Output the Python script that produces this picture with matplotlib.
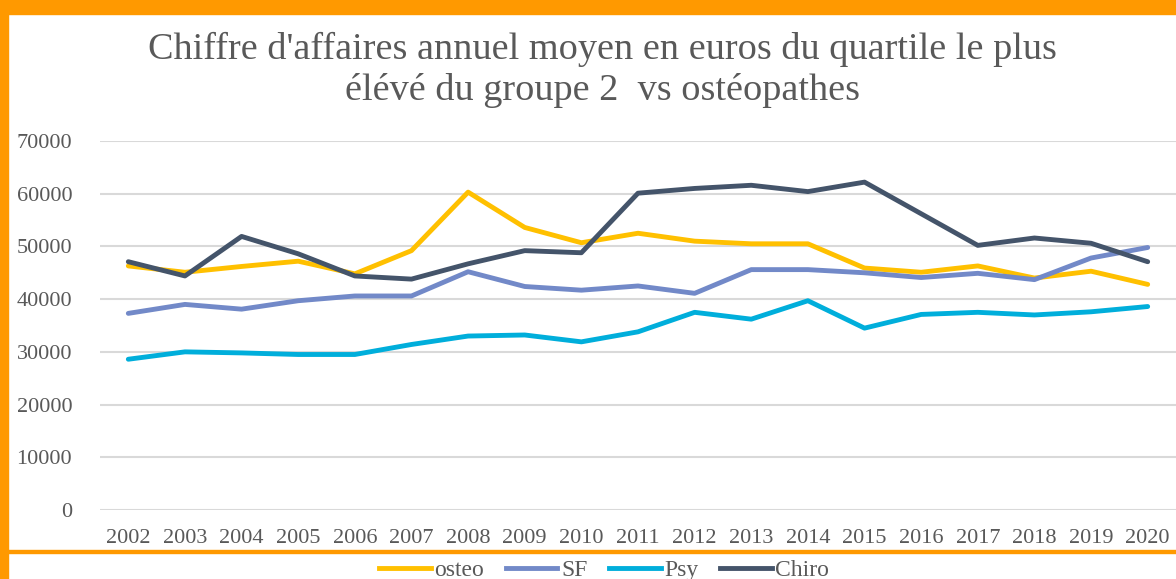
import matplotlib.pyplot as plt
from matplotlib.lines import Line2D
from matplotlib.patches import Rectangle

# Data
years = [str(y) for y in range(2002, 2021)]
osteo = [46300, 45100, 46200, 47200, 44800, 49200, 60300, 53600, 50700, 52500,
         51000, 50500, 50500, 45900, 45100, 46300, 44000, 45300, 42800]
sf = [37300, 39000, 38100, 39700, 40600, 40600, 45200, 42400, 41700, 42500,
      41100, 45600, 45600, 45000, 44100, 44900, 43700, 47800, 49800]
psy = [28600, 30000, 29800, 29500, 29500, 31400, 33000, 33200, 31900, 33800,
       37500, 36200, 39700, 34500, 37100, 37500, 37000, 37600, 38600]
chiro = [47100, 44400, 51900, 48600, 44400, 43800, 46700, 49200, 48800, 60100,
         61000, 61600, 60400, 62200, 56200, 50200, 51600, 50600, 47100]

series = [("osteo", osteo, "#FFC000"), ("SF", sf, "#7289C8"),
          ("Psy", psy, "#00AEDB"), ("Chiro", chiro, "#44546A")]

txt = "#595959"
plt.rcParams['font.family'] = ['Liberation Serif', 'DejaVu Serif']

fig = plt.figure(figsize=(11.76, 5.79), dpi=100)
ax = fig.add_axes([100 / 1176, 1 - 510 / 579, 1 - 100 / 1176, 369 / 579])

x = range(len(years))
for name, vals, col in series:
    ax.plot(x, vals, color=col, lw=3.5, label=name, solid_capstyle='round')

ax.set_xlim(-0.5, len(years) - 0.5)
ax.set_ylim(0, 70000)
ax.set_yticks(range(0, 70001, 10000))
ax.set_xticks(list(x))
ax.set_xticklabels(years)
ax.grid(axis='y', color='#D9D9D9', lw=1.5)
ax.set_axisbelow(True)
for s in ax.spines.values():
    s.set_visible(False)
ax.tick_params(length=0, labelsize=16, labelcolor=txt)
ax.tick_params(axis='y', pad=20)
ax.tick_params(axis='x', pad=14)

fig.text(0.512, 1 - 70 / 579,
         "Chiffre d'affaires annuel moyen en euros du quartile le plus\n"
         "élévé du groupe 2  vs ostéopathes",
         ha='center', va='center', fontsize=27.5, color=txt, linespacing=1.22)

# orange frame
orange = "#FF9900"
fig.patches.append(Rectangle((0, 1 - 14 / 579), 1, 14 / 579, transform=fig.transFigure,
                             color=orange, zorder=5))
fig.patches.append(Rectangle((0, 0), 8 / 1176, 1, transform=fig.transFigure,
                             color=orange, zorder=5))
fig.patches.append(Rectangle((0, 1 - 553 / 579), 1, 3 / 579, transform=fig.transFigure,
                             color=orange, zorder=5))

handles = [Line2D([], [], color=c, lw=3.5) for _, _, c in series]
fig.legend(handles, [n for n, _, _ in series], loc='center',
           bbox_to_anchor=(604 / 1176, 1 - 570 / 579), ncol=4, frameon=False,
           fontsize=17, labelcolor=txt, handlelength=2.2, handletextpad=0.15,
           columnspacing=0.9, borderpad=0)

fig.savefig("out.png", dpi=100)
